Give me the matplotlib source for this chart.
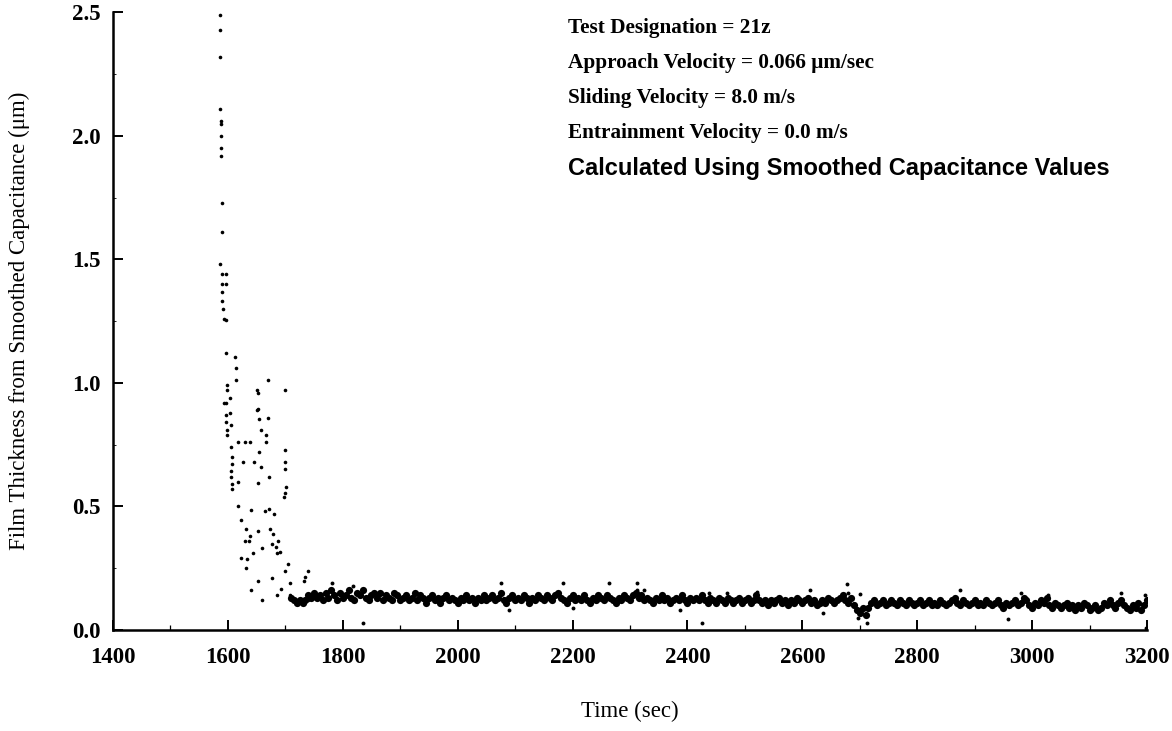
import numpy as np
import matplotlib
matplotlib.use("Agg")
import matplotlib.pyplot as plt
from matplotlib.ticker import MultipleLocator

# Early, scattered part of the run (time in sec, film thickness in um)
spike_time = [
    1587, 1587, 1587, 1587, 1588, 1588, 1588, 1588, 1588, 1589,
    1590, 1587, 1589, 1596, 1590, 1596, 1590, 1590, 1592, 1594,
    1597, 1597, 1613, 1615, 1615, 1669, 1599, 1651, 1653, 1699,
    1599, 1603, 1596, 1653, 1594, 1651, 1604, 1596, 1655, 1669,
    1597, 1606, 1599, 1658, 1599, 1667, 1617, 1629, 1639, 1667,
    1606, 1699, 1655, 1608, 1627, 1646, 1699, 1608, 1658, 1700,
    1606, 1606, 1671, 1618, 1608, 1653, 1702, 1608, 1700, 1697,
    1617, 1641, 1672, 1664, 1681, 1622, 1631, 1674, 1653, 1678,
    1638, 1629, 1636, 1676, 1688, 1683, 1660, 1690, 1685, 1643,
    1622, 1634, 1632, 1704, 1699, 1676, 1653, 1739, 1735, 1732,
    1709, 1693, 1641, 1685, 1660, 1709, 1718, 1725, 1721, 1739,
    1749, 1756,
]
spike_film = [
    2.49, 2.43, 2.32, 2.11, 2.06, 2.05, 2.00, 1.95, 1.92, 1.73,
    1.61, 1.48, 1.44, 1.44, 1.40, 1.40, 1.37, 1.33, 1.30, 1.26,
    1.255, 1.12, 1.105, 1.06, 1.01, 1.01, 0.99, 0.97, 0.96, 0.97,
    0.97, 0.94, 0.92, 0.895, 0.92, 0.89, 0.88, 0.87, 0.855, 0.86,
    0.84, 0.83, 0.81, 0.81, 0.79, 0.79, 0.76, 0.76, 0.76, 0.76,
    0.74, 0.73, 0.72, 0.70, 0.68, 0.68, 0.68, 0.67, 0.66, 0.65,
    0.645, 0.62, 0.62, 0.60, 0.59, 0.595, 0.58, 0.57, 0.555, 0.54,
    0.50, 0.485, 0.49, 0.48, 0.47, 0.445, 0.41, 0.41, 0.40, 0.39,
    0.38, 0.36, 0.36, 0.35, 0.36, 0.335, 0.33, 0.315, 0.31, 0.31,
    0.29, 0.287, 0.25, 0.267, 0.24, 0.21, 0.20, 0.24, 0.215, 0.20,
    0.19, 0.166, 0.16, 0.14, 0.12, 0.14, 0.12, 0.12, 0.11, 0.12,
    0.13, 0.14,
]

# Steady band, sampled every 5 sec from 1710 sec
band_start = 1710
band_step = 5
band_film = [
    0.13, 0.12, 0.11, 0.12, 0.11, 0.12, 0.14, 0.13, 0.15, 0.13,
    0.14, 0.12, 0.15, 0.13, 0.16, 0.14, 0.12, 0.15, 0.13, 0.14,
    0.16, 0.13, 0.12, 0.15, 0.14, 0.16, 0.13, 0.12, 0.14, 0.15,
    0.13, 0.15, 0.12, 0.14, 0.13, 0.12, 0.15, 0.14, 0.12, 0.13,
    0.14, 0.12, 0.13, 0.15, 0.12, 0.14, 0.13, 0.11, 0.13, 0.14,
    0.12, 0.13, 0.11, 0.13, 0.14, 0.12, 0.13, 0.12, 0.11, 0.13,
    0.12, 0.14, 0.12, 0.13, 0.11, 0.13, 0.12, 0.14, 0.12, 0.13,
    0.14, 0.12, 0.13, 0.15, 0.12, 0.11, 0.13, 0.14, 0.12, 0.13,
    0.12, 0.14, 0.13, 0.11, 0.13, 0.12, 0.14, 0.13, 0.12, 0.14,
    0.13, 0.12, 0.14, 0.15, 0.13, 0.12, 0.11, 0.13, 0.14, 0.12,
    0.13, 0.12, 0.14, 0.12, 0.11, 0.13, 0.12, 0.14, 0.13, 0.12,
    0.14, 0.13, 0.12, 0.11, 0.13, 0.12, 0.14, 0.13, 0.12, 0.14,
    0.15, 0.13, 0.14, 0.12, 0.13, 0.12, 0.11, 0.13, 0.12, 0.14,
    0.12, 0.13, 0.11, 0.12, 0.13, 0.12, 0.14, 0.12, 0.11, 0.13,
    0.12, 0.13, 0.12, 0.14, 0.12, 0.11, 0.13, 0.12, 0.11, 0.13,
    0.12, 0.11, 0.13, 0.12, 0.11, 0.12, 0.13, 0.11, 0.12, 0.13,
    0.11, 0.12, 0.14, 0.12, 0.11, 0.12, 0.10, 0.12, 0.11, 0.12,
    0.13, 0.11, 0.12, 0.10, 0.12, 0.11, 0.13, 0.12, 0.11, 0.12,
    0.13, 0.11, 0.12, 0.10, 0.11, 0.12, 0.11, 0.13, 0.12, 0.11,
    0.12, 0.13, 0.14, 0.12, 0.11, 0.13, 0.10, 0.08, 0.07, 0.09,
    0.06, 0.09, 0.11, 0.12, 0.10, 0.11, 0.12, 0.10, 0.11, 0.12,
    0.11, 0.10, 0.12, 0.11, 0.10, 0.12, 0.11, 0.10, 0.11, 0.12,
    0.10, 0.11, 0.12, 0.10, 0.11, 0.10, 0.12, 0.11, 0.10, 0.11,
    0.12, 0.13, 0.11, 0.10, 0.12, 0.11, 0.10, 0.11, 0.12, 0.10,
    0.11, 0.10, 0.12, 0.11, 0.10, 0.11, 0.12, 0.10, 0.09, 0.11,
    0.10, 0.11, 0.12, 0.10, 0.11, 0.13, 0.12, 0.10, 0.09, 0.11,
    0.10, 0.12, 0.11, 0.13, 0.10, 0.09, 0.11, 0.10, 0.09, 0.10,
    0.11, 0.09, 0.10, 0.08, 0.10, 0.09, 0.11, 0.10, 0.08, 0.09,
    0.10, 0.08, 0.09, 0.11, 0.10, 0.12, 0.10, 0.09, 0.11, 0.12,
    0.10, 0.09, 0.08, 0.10, 0.09, 0.11, 0.08, 0.10, 0.12,
]
band_time = band_start + band_step * np.arange(len(band_film))

# Stray points above / below the band
stray_time = [1782, 1817, 1835, 2076, 2076, 2090, 2184, 2200, 2264, 2312,
              2312, 2325, 2387, 2425, 2437, 2469, 2521, 2614, 2636, 2677,
              2680, 2697, 2700, 2713, 2874, 2958, 2981, 3028, 3155, 3197,
              3199]
stray_film = [0.19, 0.18, 0.03, 0.19, 0.15, 0.08, 0.19, 0.09, 0.19, 0.19,
              0.16, 0.16, 0.08, 0.03, 0.15, 0.15, 0.155, 0.16, 0.07, 0.185,
              0.15, 0.05, 0.145, 0.03, 0.16, 0.045, 0.15, 0.14, 0.15, 0.14,
              0.01]

info_lines = [
    "Test Designation = 21z",
    "Approach Velocity = 0.066 \u03bcm/sec",
    "Sliding Velocity = 8.0 m/s",
    "Entrainment Velocity = 0.0 m/s",
]
info_last = "Calculated Using Smoothed Capacitance Values"

serif = "Liberation Serif"
sans = "Liberation Sans"

fig = plt.figure(figsize=(11.72, 7.31), dpi=100)
ax = fig.add_axes([0.0964, 0.1382, 0.8823, 0.8448])

ax.plot(spike_time, spike_film, "o", color="black", markersize=2.6, markeredgewidth=0)
ax.plot(band_time, band_film, "o", color="black", markersize=5.2, markeredgewidth=0)
ax.plot(stray_time, stray_film, "o", color="black", markersize=2.8, markeredgewidth=0)

ax.set_xlim(1400, 3200)
ax.set_ylim(0, 2.5)
ax.xaxis.set_major_locator(MultipleLocator(200))
ax.xaxis.set_minor_locator(MultipleLocator(100))
ax.yaxis.set_major_locator(MultipleLocator(0.5))
ax.yaxis.set_minor_locator(MultipleLocator(0.25))
ax.yaxis.set_major_formatter(matplotlib.ticker.FormatStrFormatter("%.1f"))

for s in ["top", "right"]:
    ax.spines[s].set_visible(False)
for s in ["left", "bottom"]:
    ax.spines[s].set_linewidth(1.8)

ax.tick_params(which="major", direction="in", length=7, width=1.4)
ax.tick_params(which="minor", direction="in", length=3.5, width=0.9)
ax.tick_params(axis="y", which="minor", length=2, width=0.6)
ax.tick_params(axis="x", which="major", pad=12)
ax.tick_params(axis="y", which="major", pad=9)
for lab in ax.get_xticklabels() + ax.get_yticklabels():
    lab.set_fontfamily(serif)
    lab.set_fontweight("bold")
    lab.set_fontsize(16.5)

ax.set_xlabel("Time (sec)", fontfamily=serif, fontsize=16.5, labelpad=24)
ax.set_ylabel("Film Thickness from Smoothed Capacitance (\u03bcm)",
              fontfamily=serif, fontsize=16.5, labelpad=30)

for i, line in enumerate(info_lines):
    fig.text(568 / 1172, 1 - (28 + 35 * i) / 731, line, fontfamily=serif,
             fontweight="bold", fontsize=15.3, va="center", ha="left")
fig.text(568 / 1172, 1 - 168 / 731, info_last, fontfamily=sans,
         fontweight="bold", fontsize=17, va="center", ha="left")

fig.savefig("out.png", dpi=100)
